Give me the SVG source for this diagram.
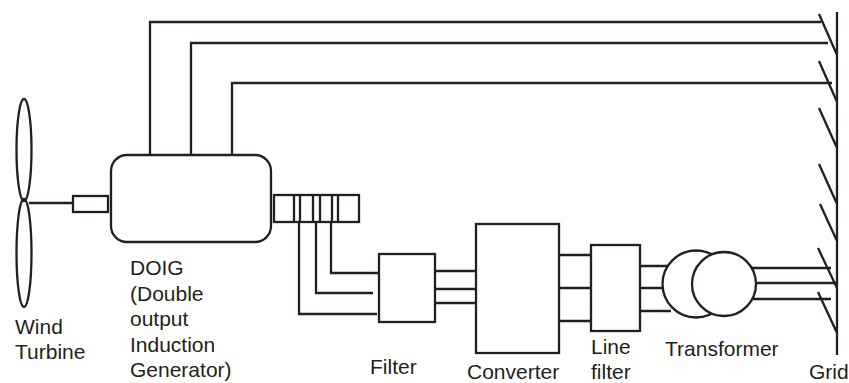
<svg xmlns="http://www.w3.org/2000/svg" width="849" height="383" viewBox="0 0 849 383">
<style>
.l{fill:none;stroke:#231f20;stroke-width:2.3}
.b{fill:#fff;stroke:#231f20;stroke-width:2.3}
text{font-family:"Liberation Sans",Arial,sans-serif;font-size:21px;fill:#231f20;stroke:none}
</style>
<g id="connectors" class="l">
<path d="M150 155V22H821"/>
<path d="M191 155V43H828"/>
<path d="M232 155V83H832"/>
<path d="M331 222V273H379"/>
<path d="M316 222V293H373"/>
<path d="M299 222V314H377"/>
<path d="M435 271H476M435 289H476M435 303H476"/>
<path d="M559 255H591M559 288H591M559 321H591"/>
<path d="M640 266H668M640 288H662M640 311H671"/>
<path d="M750 268H831M750 283H837M750 299H831"/>
<path d="M29 203H73"/>
</g>
<g id="wind-turbine"><ellipse class="l" cx="24" cy="150" rx="7.5" ry="51"/><ellipse class="l" cx="24" cy="253" rx="7.5" ry="54"/>
<text x="15" y="334">Wind</text><text x="15" y="359">Turbine</text></g>
<g id="shaft"><rect class="l" x="73" y="196" width="35" height="16"/></g>
<g id="doig"><rect class="b" x="111" y="155" width="160" height="87" rx="16"/>
<text x="130" y="275">DOIG</text><text x="130" y="301">(Double</text><text x="130" y="326">output</text><text x="130" y="352">Induction</text><text x="130" y="377">Generator)</text></g>
<g id="slip-rings" class="l"><rect x="274" y="195" width="85" height="27"/><path d="M294 195V222M300 195V222M313 195V222M320 195V222M332 195V222M338 195V222"/></g>
<g id="filter"><rect class="b" x="379" y="254" width="56" height="68"/><text x="370" y="374">Filter</text></g>
<g id="converter"><rect class="b" x="476" y="224" width="83" height="129"/><text x="467" y="378.500">Converter</text></g>
<g id="line-filter"><rect class="b" x="591" y="245" width="49" height="86"/><text x="591" y="354">Line</text><text x="591" y="378.500">filter</text></g>
<g id="transformer"><circle class="b" cx="696" cy="284" r="33.5"/><circle class="b" cx="724" cy="284" r="32"/><text x="665" y="356">Transformer</text></g>
<g id="grid"><path class="l" d="M837 12V355M819 14L837 55M819 61L837 102M819 108L837 148M819 164L837 204M820 204L837 241M818 248L837 288M818 292L837 333"/><text x="809" y="378.500">Grid</text></g>
</svg>
